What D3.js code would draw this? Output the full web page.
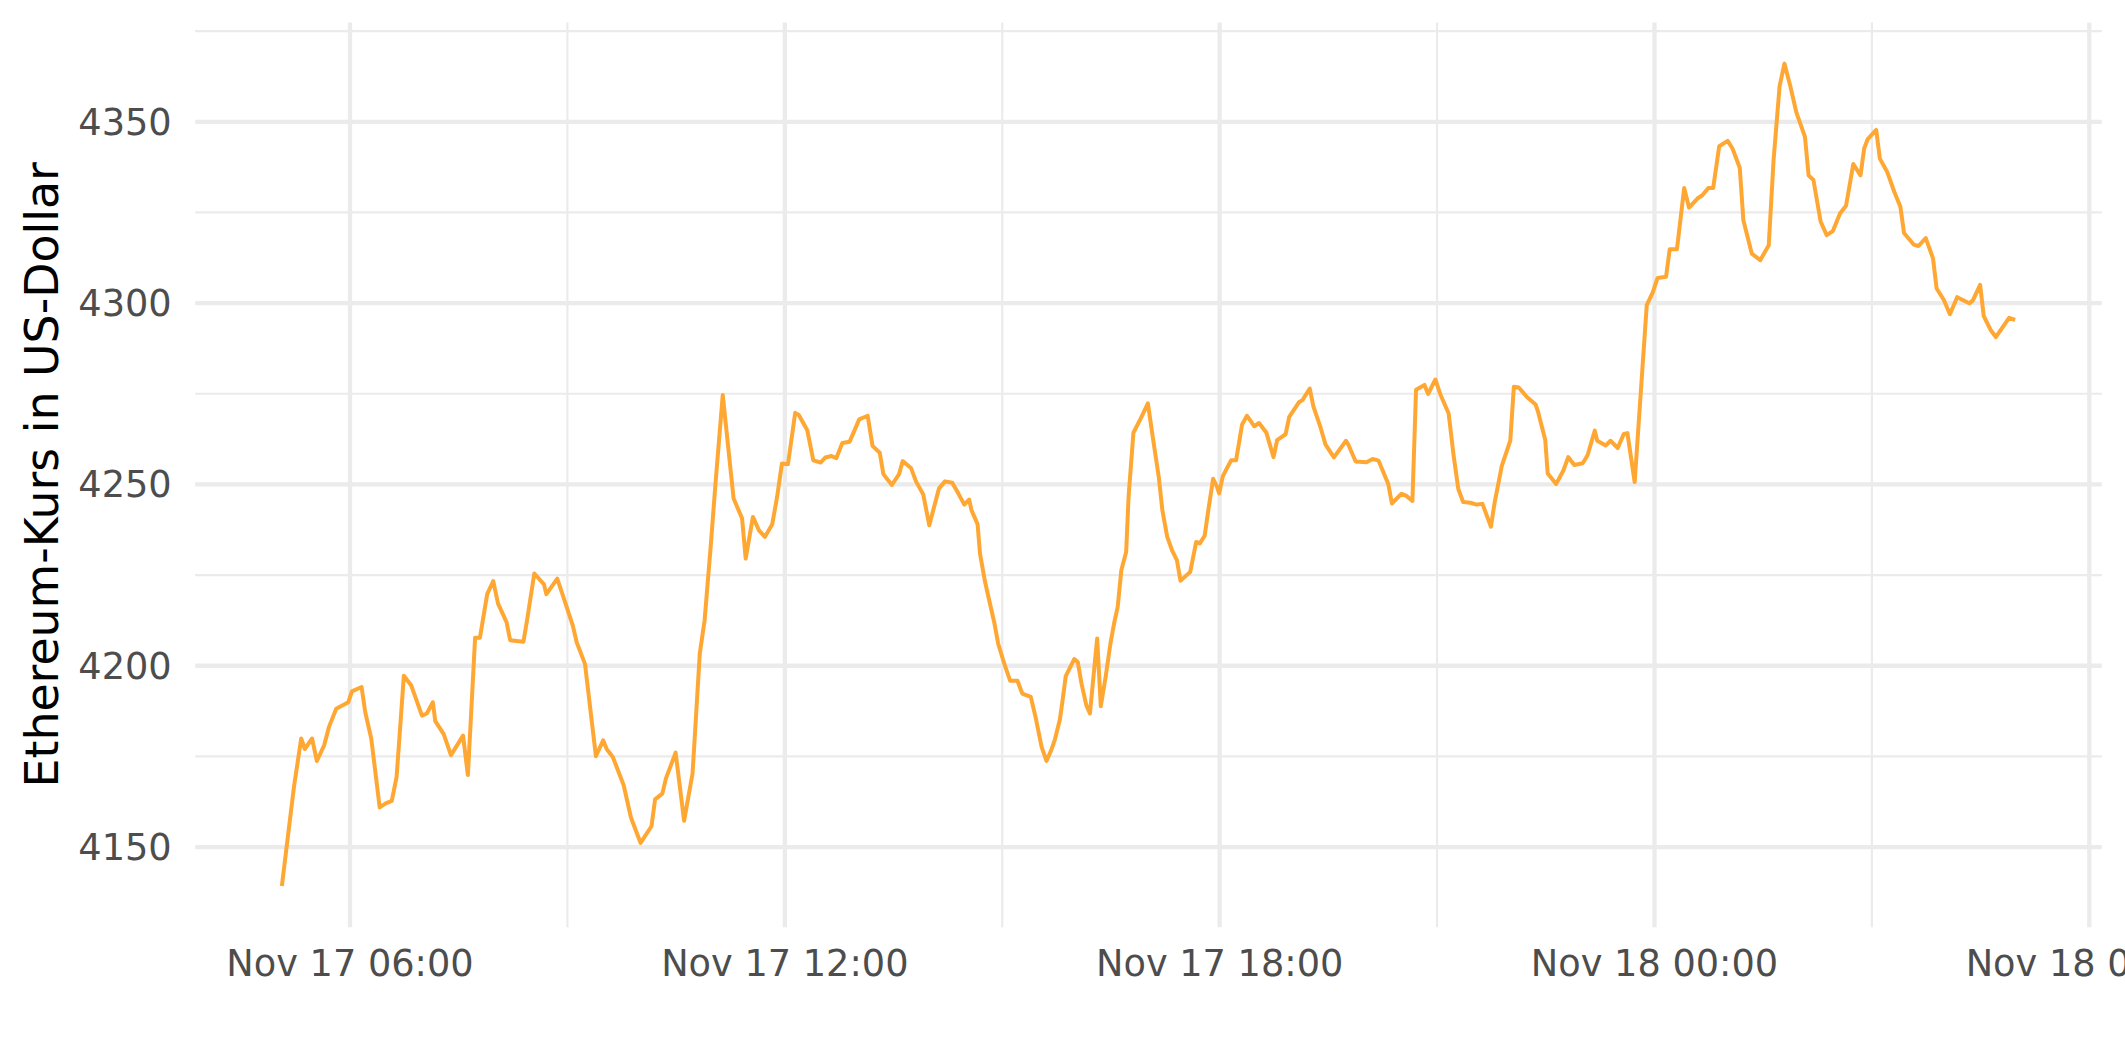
<!DOCTYPE html>
<html>
<head>
<meta charset="utf-8">
<script src="https://cdn.jsdelivr.net/npm/d3@7"></script>
<style>
  html, body { margin: 0; padding: 0; background: #ffffff; }
  svg { display: block; }
</style>
</head>
<body>
<svg id="chart" width="2125" height="1062"></svg>
<script>
// minutes since 2021-11-17 00:00 (local)
const minutesSinceMidnight = [
304,314,320,323,329,333,339,343,349,359,
362,370,373,378,385,390,395,399,405,411,
420,424,429,431,438,444,454,458,464,468,
474,479,483,490,493,504,507,513,521,523,
532,538,545,548,555,564,570,573,578,587,
593,601,610,613,619,622,630,637,644,650,
654,659,663,669,678,685,688,694,699,704,
710,714,718,723,729,732,739,744,750,754,
759,763,768,774,782,789,793,799,802,809,
815,818,825,829,835,840,848,853,859,864,
869,873,875,880,882,886,889,894,897,902,
907,913,917,924,928,933,937,941,944,948,
950,953,960,963,966,970,973,979,982,986,
990,993,996,999,1003,1005,1009,1015,1021,1025,
1030,1033,1037,1041,1045,1048,1052,1056,1061,1064,
1068,1071,1075,1078,1080,1083,1087,1090,1094,1099,
1103,1106,1109,1113,1119,1125,1128,1135,1138,1146,
1149,1155,1158,1164,1168,1175,1185,1187,1193,1202,
1207,1212,1220,1223,1231,1235,1240,1243,1250,1253,
1259,1263,1270,1274,1278,1282,1288,1293,1298,1305,
1308,1314,1321,1324,1328,1335,1342,1344,1350,1352,
1359,1365,1369,1374,1381,1385,1391,1393,1400,1404,
1410,1415,1418,1424,1434,1439,1443,1450,1453,1459,
1465,1469,1476,1480,1485,1489,1494,1501,1505,1511,
1514,1521,1528,1535,1539,1544,1548,1553,1558,1565,
1568,1572,1578,1583,1588,1594,1599,1605,1611,1614,
1617,1624,1627,1633,1639,1644,1647,1655,1659,1665,
1671,1674,1680,1685,1691,1701,1704,1710,1713,1719,
1723,1734,1739
];

const prices = [
4139.1,4166.4,4179.8,4176.9,4179.8,4173.6,4177.9,4183.0,4188.0,4189.8,
4192.8,4194.0,4187.1,4179.8,4160.8,4161.9,4162.6,4169.2,4197.1,4194.5,
4186.1,4186.7,4189.8,4184.6,4181.0,4175.2,4180.6,4169.7,4207.6,4207.6,
4219.6,4223.2,4217.0,4211.9,4206.9,4206.5,4212.4,4225.3,4222.3,4219.6,
4223.9,4217.9,4210.8,4206.4,4200.3,4174.9,4179.3,4176.8,4174.7,4166.9,
4158.0,4151.0,4155.6,4163.0,4164.6,4168.8,4175.9,4157.1,4170.1,4203.2,
4212.4,4232.6,4250.1,4274.5,4246.0,4240.5,4229.4,4240.9,4237.2,4235.4,
4238.9,4246.4,4255.6,4255.4,4269.6,4269.0,4264.8,4256.5,4255.9,4257.3,
4257.7,4257.1,4261.3,4261.6,4267.8,4268.8,4260.5,4258.6,4252.7,4249.7,
4252.7,4256.3,4254.3,4250.7,4247.1,4238.6,4248.7,4250.7,4250.3,4247.4,
4244.3,4245.7,4242.7,4238.9,4230.8,4223.3,4218.8,4211.5,4206.0,4200.5,
4195.7,4195.7,4192.2,4191.3,4185.7,4177.5,4173.6,4176.6,4179.5,4184.8,
4189.4,4197.0,4201.7,4200.8,4195.0,4189.0,4186.7,4207.4,4188.7,4196.8,
4206.0,4211.5,4216.1,4226.2,4231.2,4246.4,4264.1,4268.0,4272.2,4263.0,
4251.9,4242.7,4235.4,4231.7,4229.0,4223.3,4224.5,4225.7,4234.0,4233.6,
4235.7,4242.7,4251.4,4249.4,4247.4,4252.1,4254.7,4256.5,4256.5,4266.4,
4268.8,4267.4,4265.9,4266.8,4264.2,4257.4,4262.1,4263.7,4268.5,4272.5,
4273.1,4276.3,4271.4,4265.5,4260.9,4257.3,4261.9,4260.8,4256.2,4256.0,
4256.9,4256.4,4250.0,4244.6,4247.3,4246.7,4245.3,4276.0,4277.3,4274.8,
4278.8,4274.8,4269.4,4258.1,4248.6,4245.0,4244.8,4244.3,4244.5,4238.2,
4244.7,4255.0,4261.9,4276.8,4276.6,4273.9,4271.9,4269.9,4262.1,4252.9,
4250.0,4253.7,4257.4,4255.2,4255.7,4257.9,4264.7,4261.9,4260.6,4261.9,
4259.9,4263.8,4264.0,4250.5,4299.3,4302.8,4306.8,4307.1,4314.7,4314.7,
4331.6,4326.2,4328.7,4329.6,4331.6,4331.6,4343.1,4344.6,4342.5,4337.2,
4322.7,4313.5,4311.7,4315.8,4339.3,4359.7,4365.9,4359.5,4352.3,4345.7,
4335.1,4333.8,4322.3,4318.6,4319.7,4324.6,4326.7,4338.2,4335.1,4342.5,
4345.1,4347.6,4339.7,4336.1,4330.5,4326.4,4319.2,4316.0,4315.6,4317.8,
4312.2,4303.9,4300.7,4296.8,4301.5,4299.8,4300.6,4304.9,4296.3,4292.3,
4290.5,4295.8,4295.2
];

const yMajorTicks = [4150, 4200, 4250, 4300, 4350];
const yMinorTicks = [4175, 4225, 4275, 4325, 4375];
// hours since 2021-11-17 00:00
const xMajorHours = [6, 12, 18, 24, 30];
const xMinorHours = [9, 15, 21, 27];
const yTitle = "Ethereum-Kurs in US-Dollar";

const base = new Date(2021, 10, 17, 0, 0);
const toDate = m => new Date(base.getTime() + m * 60000);
const data = minutesSinceMidnight.map((m, i) => ({ t: toDate(m), v: prices[i] }));

const panel = { left: 195.2, right: 2101.8, top: 22.5, bottom: 927.2 };

function expand(ext, f) {
  const r = ext[1] - ext[0];
  return [ext[0] - r * f, ext[1] + r * f];
}
const tExt = d3.extent(data, d => +d.t);
const tDom = expand(tExt, 0.05).map(v => new Date(v));
const vDom = expand(d3.extent(data, d => d.v), 0.05);

const x = d3.scaleTime().domain(tDom).range([panel.left, panel.right]);
const y = d3.scaleLinear().domain(vDom).range([panel.bottom, panel.top]);

const svg = d3.select("#chart");
const font = "'DejaVu Sans', 'Liberation Sans', sans-serif";
const gridCol = "#EBEBEB";

const hoursToDate = h => new Date(base.getTime() + h * 3600000);

// minor grid
const gMinY = svg.append("g").attr("transform", `translate(${panel.left},0)`)
  .call(d3.axisLeft(y).tickValues(yMinorTicks).tickSize(-(panel.right - panel.left)).tickFormat(""));
const gMinX = svg.append("g").attr("transform", `translate(0,${panel.bottom})`)
  .call(d3.axisBottom(x).tickValues(xMinorHours.map(hoursToDate)).tickSize(-(panel.bottom - panel.top)).tickFormat(""));
[gMinY, gMinX].forEach(g => {
  g.select(".domain").remove();
  g.selectAll("line").attr("stroke", gridCol).attr("stroke-width", 2.2);
});

// major grid
const gMajY = svg.append("g").attr("transform", `translate(${panel.left},0)`)
  .call(d3.axisLeft(y).tickValues(yMajorTicks).tickSize(-(panel.right - panel.left)).tickFormat(""));
const gMajX = svg.append("g").attr("transform", `translate(0,${panel.bottom})`)
  .call(d3.axisBottom(x).tickValues(xMajorHours.map(hoursToDate)).tickSize(-(panel.bottom - panel.top)).tickFormat(""));
[gMajY, gMajX].forEach(g => {
  g.select(".domain").remove();
  g.selectAll("line").attr("stroke", gridCol).attr("stroke-width", 4.3);
});

// line
const line = d3.line().x(d => x(d.t)).y(d => y(d.v));
svg.append("path")
  .datum(data)
  .attr("d", line)
  .attr("fill", "none")
  .attr("stroke", "#FFA733")
  .attr("stroke-width", 4)
  .attr("stroke-linejoin", "round")
  .attr("stroke-linecap", "butt");

// y axis labels
const yAxis = svg.append("g").attr("transform", `translate(${panel.left},0)`)
  .call(d3.axisLeft(y).tickValues(yMajorTicks).tickSize(0).tickPadding(23.5).tickFormat(d3.format("d")));
yAxis.select(".domain").remove();
yAxis.selectAll("text")
  .attr("font-family", font).attr("font-size", 36.7).attr("fill", "#4D4D4D")
  .attr("dy", "0.35em");

// x axis labels
const fmt = d3.timeFormat("%b %d %H:%M");
const xAxis = svg.append("g").attr("transform", `translate(0,${panel.bottom})`)
  .call(d3.axisBottom(x).tickValues(xMajorHours.map(hoursToDate)).tickSize(0).tickFormat(fmt));
xAxis.select(".domain").remove();
xAxis.selectAll("text")
  .attr("font-family", font).attr("font-size", 36.7).attr("fill", "#4D4D4D")
  .attr("y", 48.8).attr("dy", 0);

// y title
svg.append("text")
  .attr("transform", `translate(58,${(panel.top + panel.bottom) / 2}) rotate(-90)`)
  .attr("text-anchor", "middle")
  .attr("font-family", font).attr("font-size", 45.8).attr("fill", "#000000")
  .text(yTitle);
</script>
</body>
</html>
